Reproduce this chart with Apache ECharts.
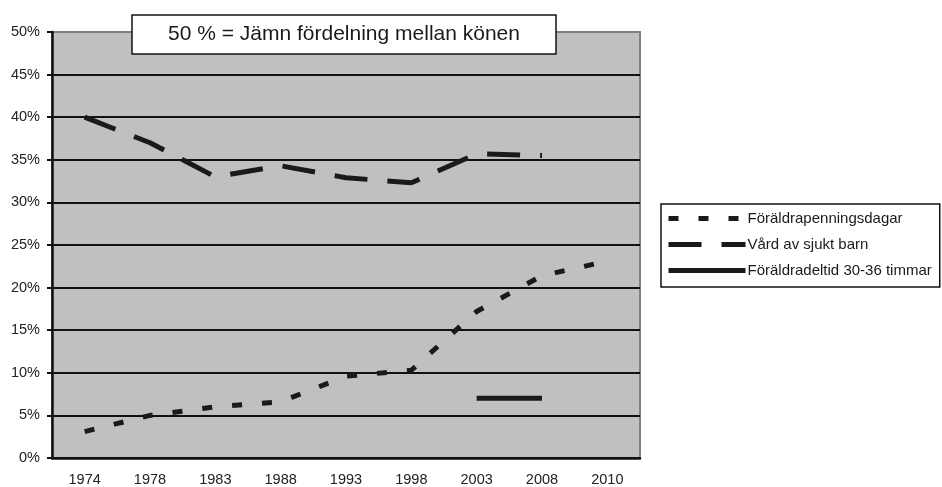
<!DOCTYPE html>
<html><head><meta charset="utf-8">
<script src="https://cdn.jsdelivr.net/npm/echarts@6/dist/echarts.min.js"></script>
<style>html,body{margin:0;padding:0;background:#fff}#c{width:942px;height:487px}</style>
</head><body><div id="c"></div>
<script>
const categories = ['1974','1978','1983','1988','1993','1998','2003','2008','2010'];
const foraldrapenningsdagar = [3.1, 5.0, 6.0, 6.6, 9.6, 10.3, 17.2, 21.4, 23.1];
const vardAvSjuktBarn = [40.0, 37.0, 33.0, 34.3, 32.9, 32.3, 35.7, 35.5, null];
const foraldradeltid = [null, null, null, null, null, null, 7.0, 7.0, null];
const seriesNames = ['Föräldrapenningsdagar', 'Vård av sjukt barn', 'Föräldradeltid 30-36 timmar'];
const titleText = '50 % = Jämn fördelning mellan könen';

const FONT = 'Liberation Sans, Arial, sans-serif';
const LINE = '#1a1a1a';
const splitColors = ['#111','#111','#111','#111','#111','#111','#111','#111','#111','#111','#808080'];

const chart = echarts.init(document.getElementById('c'), null, {renderer: 'canvas'});
chart.setOption({
  animation: false,
  backgroundColor: '#ffffff',
  textStyle: {fontFamily: FONT},
  title: {
    text: titleText,
    left: 132, top: 15,
    padding: [9, 36],
    backgroundColor: '#ffffff',
    borderColor: '#111',
    borderWidth: 1.5,
    textStyle: {fontFamily: FONT, fontSize: 21, fontWeight: 'normal', color: '#1a1a1a', lineHeight: 21}
  },
  legend: {
    orient: 'vertical',
    left: 661, top: 204,
    padding: [7, 8, 9, 5],
    itemWidth: 77, itemHeight: 14, itemGap: 11,
    borderColor: '#111', borderWidth: 1.5,
    backgroundColor: '#ffffff',
    itemStyle: {opacity: 0},
    lineStyle: {width: 5, type: 'inherit', color: 'inherit', cap: 'butt'},
    textStyle: {fontFamily: FONT, fontSize: 15, color: '#1a1a1a', lineHeight: 14, padding: [0,0,0,-3]},
    data: seriesNames
  },
  grid: {
    left: 52, right: 302, top: 32, bottom: 28,
    show: true, backgroundColor: '#c0c0c0', borderColor: '#808080', borderWidth: 2
  },
  xAxis: {
    type: 'category',
    data: categories,
    boundaryGap: true,
    axisLine: {lineStyle: {color: '#111', width: 2.5}},
    axisTick: {show: false},
    axisLabel: {fontFamily: FONT, fontSize: 14.5, color: '#222', margin: 14}
  },
  yAxis: {
    type: 'value',
    min: 0, max: 50, interval: 5,
    axisLine: {show: true, lineStyle: {color: '#111', width: 2.5}},
    axisTick: {show: true, length: 5, lineStyle: {color: '#111', width: 2}},
    axisLabel: {fontFamily: FONT, fontSize: 14.5, color: '#222', margin: 12, formatter: '{value}%'},
    splitLine: {show: true, lineStyle: {color: splitColors, width: 2}}
  },
  series: [
    {
      name: seriesNames[0], type: 'line', data: foraldrapenningsdagar,
      symbol: 'none', connectNulls: false,
      lineStyle: {color: LINE, width: 5, type: [10, 20], cap: 'butt'},
      itemStyle: {color: LINE}
    },
    {
      name: seriesNames[1], type: 'line', data: vardAvSjuktBarn,
      symbol: 'none',
      lineStyle: {color: LINE, width: 5, type: [33, 20], cap: 'butt'},
      itemStyle: {color: LINE}
    },
    {
      name: seriesNames[2], type: 'line', data: foraldradeltid,
      symbol: 'none',
      lineStyle: {color: LINE, width: 5, type: 'solid', cap: 'butt'},
      itemStyle: {color: LINE}
    }
  ]
});
</script>
</body></html>
